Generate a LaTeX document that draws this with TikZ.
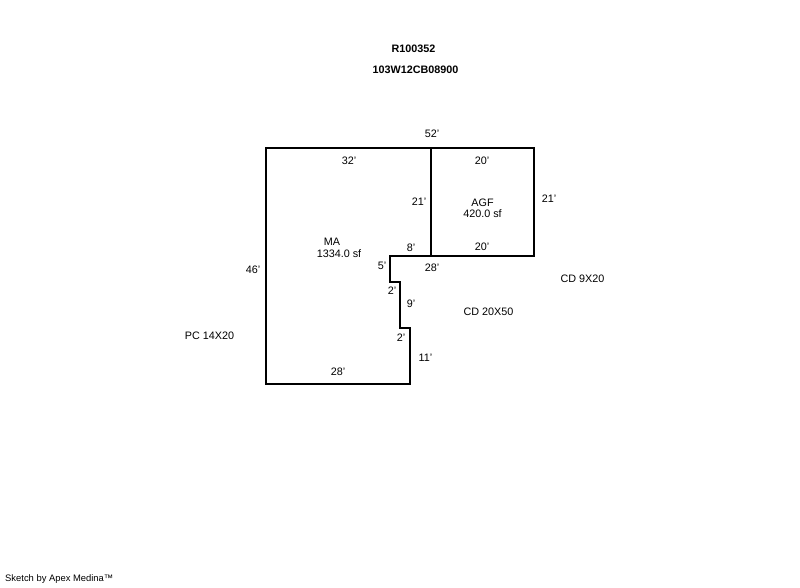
\documentclass[tikz,border=0pt]{standalone}
\usepackage{fontspec}
\setmainfont{Liberation Sans}
\tikzset{
  x=1pt,y=-1pt,
  lbl/.style={inner sep=0pt,font=\fontsize{10.8}{12}\selectfont,text=black,align=center},
  ttl/.style={inner sep=0pt,font=\fontsize{10.8}{12}\selectfont\bfseries,text=black},
  foot/.style={inner sep=0pt,font=\fontsize{9.4}{11}\selectfont,text=black},
  wall/.style={draw=black,line width=2pt,line join=miter}
}
\begin{document}
\begin{tikzpicture}
\useasboundingbox[fill=white] (0,0) rectangle (800,587);
\draw[wall] (266,148) -- (534,148) -- (534,256) -- (390,256) -- (390,282) -- (400,282) -- (400,328) -- (410,328) -- (410,384) -- (266,384) -- cycle;
\draw[wall] (431,148) -- (431,256);
\node[ttl] (t1) at (413.5,48.7) {R100352};
\node[ttl] (t2) at (415.5,69.8) {103W12CB08900};
\node[lbl] (a) at (432,133.5) {52'};
\node[lbl] (b) at (349,161) {32'};
\node[lbl] (c) at (482,161) {20'};
\node[lbl] (d) at (419,201.5) {21'};
\node[lbl] (e) at (549,198.5) {21'};
\node[lbl] (f) at (482.5,208.5) {AGF\\[-0.5pt]420.0 sf};
\node[lbl] (g) at (332,241.5) {MA};
\node[lbl] (g2) at (339,253.5) {1334.0 sf};
\node[lbl] (h) at (411,247.5) {8'};
\node[lbl] (i) at (482,246.5) {20'};
\node[lbl] (j) at (382,266) {5'};
\node[lbl] (k) at (432,267.5) {28'};
\node[lbl] (l) at (253,269.5) {46'};
\node[lbl] (m) at (582.5,278.5) {CD 9X20};
\node[lbl] (n) at (392,290.5) {2'};
\node[lbl] (o) at (411,304) {9'};
\node[lbl] (p) at (488.5,311.5) {CD 20X50};
\node[lbl] (q) at (209.5,335.5) {PC 14X20};
\node[lbl] (r) at (401,337.5) {2'};
\node[lbl] (s) at (425.5,358) {11'};
\node[lbl] (u) at (338,372) {28'};
\node[foot,anchor=west] (v) at (5,579.5) {Sketch by Apex Medina™};
\end{tikzpicture}
\end{document}
